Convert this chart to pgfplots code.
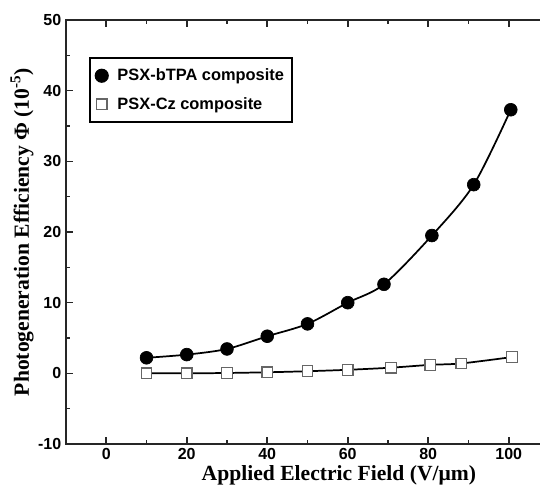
\documentclass[border=0pt]{standalone}
\usepackage{pgfplots}
\pgfplotsset{compat=1.18}
\usepackage{fontspec}
\setmainfont{Liberation Serif}
\setsansfont{Liberation Sans}
\begin{document}
\begin{tikzpicture}
\begin{axis}[
 scale only axis, width=362.25pt, height=318pt,
 xmin=-10, xmax=110, ymin=-10, ymax=50,
 xtick={0,20,...,100}, ytick={-10,0,...,50},
 minor x tick num=1, minor y tick num=1,
 tick align=inside,
 major tick length=5pt, minor tick length=3pt,
 axis line style={line width=1.5pt, black!85},
 every tick/.style={line width=1.2pt, black!85},
 ticklabel style={font=\sffamily\bfseries\fontsize{12}{14}\selectfont},
 /pgf/number format/assume math mode=true,
 xlabel={Applied Electric Field (V/μm)},
 ylabel={Photogeneration Efficiency Φ (10\textsuperscript{-5})},
 label style={font=\bfseries\fontsize{16.2}{18}\selectfont},
 xlabel style={at={(axis description cs:0.565,0)}, anchor=base, yshift=-27.6pt, inner sep=0pt},
 ylabel style={at={(axis description cs:-0.091,0.5)}, anchor=center},
 legend style={at={(axis cs:-4.2,44.7)}, anchor=north west, draw=black, line width=1pt,
   font=\sffamily\bfseries\fontsize{12.3}{14}\selectfont, row sep=7pt, inner xsep=4pt, inner ysep=6pt,
   nodes={inner sep=2pt},
   /tikz/every odd column/.append style={column sep=5pt}},
 legend cell align=left,
]
\coordinate (sw) at (rel axis cs:0,0);
\addplot[black, line width=1.3pt, smooth, mark=*, mark size=4.8pt, mark options={fill=black, line width=0.5pt}, forget plot] coordinates {
 (10,2.2) (20,2.65) (30,3.45) (40,5.25) (50,7.0) (60,10.0) (69,12.6) (80.9,19.5) (91.3,26.7) (100.5,37.3)};
\addplot[black, line width=1.3pt, smooth, mark=square*, mark size=4pt, mark options={fill=white, draw=black!60, line width=0.9pt}, forget plot] coordinates {
 (10,0) (20,0) (30,0.05) (40,0.15) (50,0.3) (60,0.5) (70.7,0.8) (80.5,1.2) (88.2,1.4) (100.8,2.3)};
\addlegendimage{only marks, mark=*, mark size=4.8pt, mark options={fill=black}}
\addlegendentry{PSX-bTPA composite}
\addlegendimage{only marks, mark=square*, mark size=4pt, mark options={fill=white, draw=black!60, line width=0.9pt}}
\addlegendentry{PSX-Cz composite}
\end{axis}
\pgfresetboundingbox
\path[use as bounding box] ([shift={(-49.5pt,-32.25pt)}]sw) rectangle ([shift={(355.5pt,333pt)}]sw);
\end{tikzpicture}
\end{document}
